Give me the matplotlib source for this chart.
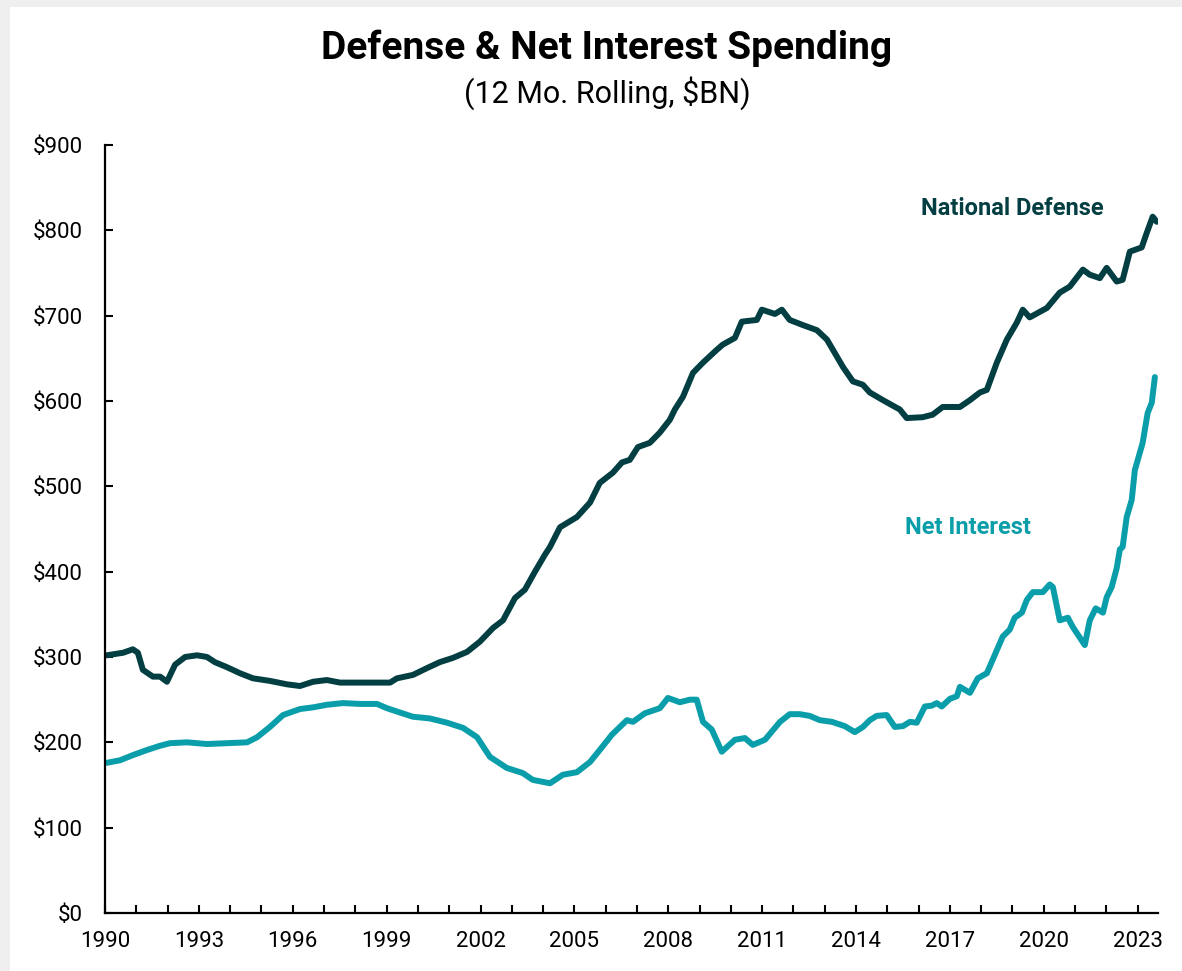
import matplotlib
matplotlib.use("Agg")
import matplotlib.pyplot as plt
from matplotlib.patches import Rectangle
import numpy as np

# ---------------- data ----------------
defense_dates = [1990.06, 1990.58, 1990.89, 1991.05, 1991.21, 1991.53, 1991.76, 1991.98,
                 1992.24, 1992.56, 1992.94, 1993.26, 1993.51, 1993.90, 1994.31, 1994.73,
                 1995.27, 1995.81, 1996.23, 1996.65, 1997.09, 1997.51, 1998.15, 1998.69,
                 1999.11, 1999.33, 1999.84, 2000.29, 2000.70, 2001.12, 2001.57, 2001.98,
                 2002.40, 2002.72, 2003.10, 2003.42, 2003.74, 2004.06, 2004.22, 2004.54,
                 2005.08, 2005.50, 2005.81, 2006.23, 2006.52, 2006.77, 2007.03, 2007.41,
                 2007.73, 2008.05, 2008.21, 2008.47, 2008.79, 2009.11, 2009.55, 2009.74,
                 2010.13, 2010.35, 2010.83, 2010.99, 2011.41, 2011.63, 2011.88, 2012.30,
                 2012.75, 2013.07, 2013.39, 2013.58, 2013.90, 2014.22, 2014.44, 2014.86,
                 2015.40, 2015.62, 2016.13, 2016.45, 2016.77, 2017.32, 2017.64, 2017.96,
                 2018.18, 2018.50, 2018.82, 2019.14, 2019.33, 2019.55, 2020.10, 2020.51,
                 2020.83, 2021.25, 2021.47, 2021.79, 2022.01, 2022.33, 2022.52, 2022.75,
                 2023.13, 2023.29, 2023.48, 2023.61]
defense_values = [302, 305, 309, 305, 285, 277, 277, 271,
                  291, 300, 302, 300, 294, 288, 281, 275,
                  272, 268, 266, 271, 273, 270, 270, 270,
                  270, 275, 279, 287, 294, 299, 306, 318,
                  334, 343, 369, 379, 400, 420, 429, 452,
                  464, 481, 504, 516, 528, 531, 546, 551,
                  563, 578, 590, 605, 633, 645, 660, 666,
                  674, 693, 695, 707, 702, 707, 695, 689,
                  683, 672, 652, 640, 623, 619, 610, 601,
                  590, 580, 581, 584, 593, 593, 601, 610,
                  613, 645, 672, 692, 707, 698, 709, 727,
                  734, 754, 748, 744, 756, 740, 742, 775,
                  780, 797, 816, 810]

interest_dates = [1990.06, 1990.48, 1990.89, 1991.34, 1991.76, 1992.08, 1992.62, 1993.26,
                  1993.90, 1994.54, 1994.86, 1995.27, 1995.69, 1996.23, 1996.65, 1997.09,
                  1997.60, 1998.15, 1998.69, 1999.01, 1999.42, 1999.84, 2000.38, 2000.93,
                  2001.44, 2001.89, 2002.30, 2002.84, 2003.35, 2003.67, 2004.22, 2004.63,
                  2005.08, 2005.50, 2005.81, 2006.20, 2006.68, 2006.87, 2007.25, 2007.73,
                  2007.99, 2008.37, 2008.69, 2008.91, 2009.11, 2009.39, 2009.71, 2010.13,
                  2010.45, 2010.70, 2011.09, 2011.57, 2011.88, 2012.20, 2012.52, 2012.84,
                  2013.23, 2013.64, 2013.96, 2014.22, 2014.44, 2014.66, 2014.98, 2015.24,
                  2015.50, 2015.72, 2015.94, 2016.20, 2016.42, 2016.58, 2016.74, 2017.00,
                  2017.22, 2017.32, 2017.64, 2017.89, 2018.18, 2018.50, 2018.69, 2018.91,
                  2019.07, 2019.30, 2019.46, 2019.65, 2019.97, 2020.19, 2020.29, 2020.51,
                  2020.77, 2020.93, 2021.31, 2021.47, 2021.66, 2021.89, 2022.01, 2022.17,
                  2022.33, 2022.43, 2022.52, 2022.65, 2022.81, 2022.91, 2023.16, 2023.32,
                  2023.45, 2023.55]
interest_values = [176, 179, 185, 191, 196, 199, 200, 198,
                   199, 200, 206, 218, 232, 239, 241, 244,
                   246, 245, 245, 240, 235, 230, 228, 223,
                   217, 206, 183, 170, 164, 156, 152, 162,
                   165, 177, 191, 209, 226, 224, 234, 240,
                   252, 247, 250, 250, 224, 215, 189, 203,
                   205, 197, 203, 224, 233, 233, 231, 226,
                   224, 219, 212, 218, 226, 231, 232, 218,
                   219, 224, 223, 242, 243, 246, 242, 251,
                   254, 265, 258, 275, 281, 308, 324, 332,
                   346, 352, 367, 376, 376, 385, 382, 343,
                   346, 335, 314, 343, 357, 352, 370, 382,
                   404, 426, 429, 464, 484, 519, 551, 586,
                   598, 628]

x_tick_years = list(range(1990, 2024))
x_label_years = list(range(1990, 2024, 3))
y_ticks = [0, 100, 200, 300, 400, 500, 600, 700, 800, 900]

title = "Defense & Net Interest Spending"
subtitle = "(12 Mo. Rolling, $BN)"
defense_label = "National Defense"
interest_label = "Net Interest"

DEF_COLOR = "#033e42"
INT_COLOR = "#0a9eaa"

# ---------------- figure ----------------
W, H = 1182, 971
fig = plt.figure(figsize=(W / 100, H / 100), dpi=100, facecolor="#efefef")
fig.patches.append(Rectangle((10 / W, 0), 1, 1 - 7 / H, transform=fig.transFigure,
                             facecolor="white", edgecolor="none", zorder=-10))

ax = fig.add_axes([105 / W, 1 - 913 / H, (1158 - 105) / W, (913 - 145) / H])
ax.set_facecolor("none")
ax.set_zorder(5)

ax.plot(defense_dates, defense_values, color=DEF_COLOR, lw=4.3, solid_joinstyle="round",
        solid_capstyle="round")
ax.plot(interest_dates, interest_values, color=INT_COLOR, lw=4.3, solid_joinstyle="round",
        solid_capstyle="round")

ax.set_xlim(1990, 2023.65)
ax.set_ylim(0, 900)

for s in ["top", "right"]:
    ax.spines[s].set_visible(False)
for s in ["left", "bottom"]:
    ax.spines[s].set_linewidth(1.6)
    ax.spines[s].set_color("black")

tick_font = dict(family=["Roboto", "DejaVu Sans"], size=16)
ax.set_xticks(x_tick_years)
ax.set_xticklabels([str(y) if y in x_label_years else "" for y in x_tick_years], **tick_font)
ax.set_yticks(y_ticks)
ax.set_yticklabels([f"${v}" for v in y_ticks], **tick_font)
ax.tick_params(axis="both", direction="in", length=6, width=1.5, colors="black")
ax.tick_params(axis="x", pad=13)
ax.tick_params(axis="y", pad=16)

ax.text(2019.0, 826, defense_label, color=DEF_COLOR, fontsize=17, fontweight="bold",
        family=["Roboto", "DejaVu Sans"], ha="center", va="center")
ax.text(2017.57, 452, interest_label, color=INT_COLOR, fontsize=17, fontweight="bold",
        family=["Roboto", "DejaVu Sans"], ha="center", va="center")

fig.text(607 / W, 1 - 48 / H, title, fontsize=28, fontweight="bold",
         family=["Roboto", "DejaVu Sans"], ha="center", va="center", zorder=10)
fig.text(607 / W, 1 - 93 / H, subtitle, fontsize=22,
         family=["Roboto", "DejaVu Sans"], ha="center", va="center", zorder=10)

fig.savefig("out.png", dpi=100, facecolor=fig.get_facecolor())
